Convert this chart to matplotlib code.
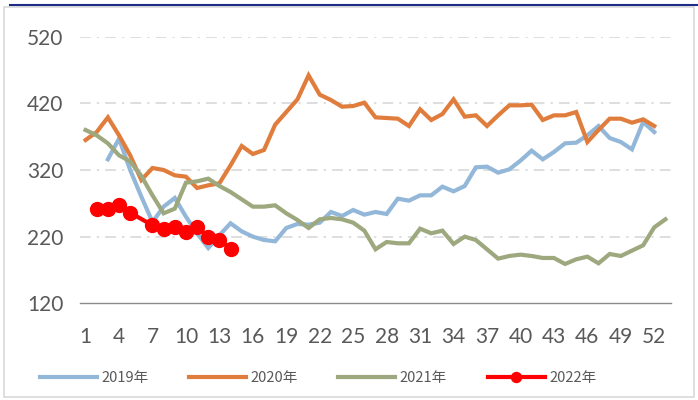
import numpy as np
import matplotlib
matplotlib.use("Agg")
import matplotlib.pyplot as plt
from matplotlib.patches import Rectangle
from matplotlib.lines import Line2D

# weekly values
weeks_2019 = list(range(3, 53))
vals_2019 = [336, 367, 320, 280, 242, 265, 278, 250, 225, 203, 222, 240, 228, 220, 215,
             213, 233, 239, 238, 241, 257, 251, 260, 253, 257, 254, 277, 274, 282, 282,
             295, 288, 296, 324, 325, 316, 321, 334, 349, 336, 347, 360, 361, 372, 386,
             368, 362, 351, 392, 377]

weeks_2020 = list(range(1, 53))
vals_2020 = [365, 377, 399, 372, 342, 305, 323, 320, 312, 310, 293, 297, 300, 327, 356,
             344, 350, 388, 407, 426, 462, 433, 425, 415, 416, 421, 399, 398, 397, 386,
             411, 395, 404, 426, 400, 402, 386, 402, 417, 417, 418, 395, 402, 402, 407,
             362, 380, 397, 397, 391, 396, 386]

weeks_2021 = list(range(1, 54))
vals_2021 = [380, 372, 360, 342, 333, 311, 282, 255, 262, 301, 303, 307, 296, 287, 276,
             265, 265, 267, 255, 245, 233, 246, 248, 246, 241, 229, 201, 212, 210, 210,
             232, 225, 229, 209, 220, 215, 201, 187, 191, 193, 191, 188, 188, 179, 186,
             190, 180, 194, 191, 199, 207, 234, 246]

weeks_2022 = [2, 3, 4, 5, 7, 8, 9, 10, 11, 12, 13, 14]
vals_2022 = [262, 262, 267, 256, 237, 231, 235, 227, 235, 220, 215, 202]

x_ticks = list(range(1, 53, 3))
y_ticks = [120, 220, 320, 420, 520]

fig = plt.figure(figsize=(6.98, 4.0), dpi=100)
ax = fig.add_axes([80 / 698, 1 - 303.3 / 400, 591 / 698, 266.6 / 400])

# outer frame of the chart area
fig.patches.append(Rectangle((4 / 698, 3 / 400), 690 / 698, 390 / 400, transform=fig.transFigure,
                             fill=False, edgecolor="#d9d9d9", linewidth=1.2))
fig.lines.append(Line2D([10 / 698, 1], [1 - 4.5 / 400, 1 - 4.5 / 400], transform=fig.transFigure,
                        color="#1f2a8a", linewidth=1.5))

lw = 3.0
ax.plot(weeks_2019, vals_2019, color="#93b7d8", lw=lw, label="2019年", solid_joinstyle="miter")
ax.plot(weeks_2020, vals_2020, color="#e07d3c", lw=lw, label="2020年", solid_joinstyle="miter")
ax.plot(weeks_2021, vals_2021, color="#9da87e", lw=lw, label="2021年", solid_joinstyle="miter")
ax.plot(weeks_2022, vals_2022, color="#ff0000", lw=lw, marker="o", markersize=10,
        label="2022年")

ax.set_xlim(0.5, 53.5)
ax.set_ylim(120, 520)
ax.set_xticks(x_ticks)
ax.set_yticks(y_ticks)

for v in y_ticks[1:]:
    ax.axhline(v, color="#d4d4d4", lw=1.1, dashes=(7, 4, 1.5, 4), zorder=0)

for s in ["top", "right", "left"]:
    ax.spines[s].set_visible(False)
ax.spines["bottom"].set_color("#8c8c8c")
ax.spines["bottom"].set_linewidth(1.0)

ax.tick_params(axis="both", length=0, labelsize=15, labelcolor="#595959")
ax.tick_params(axis="y", pad=12)
ax.tick_params(axis="x", pad=17)
for lab in ax.get_xticklabels() + ax.get_yticklabels():
    lab.set_family("Lato")

leg = fig.legend(loc="center", bbox_to_anchor=(318 / 698, 1 - 378 / 400), ncol=4,
                 frameon=False, handlelength=3.9, handletextpad=0.3, columnspacing=2.8,
                 markerscale=0.72,
                 prop={"family": ["Noto Sans CJK SC", "DejaVu Sans"], "size": 10.5})
for t in leg.get_texts():
    t.set_color("#595959")

fig.savefig("out.png", dpi=100)
